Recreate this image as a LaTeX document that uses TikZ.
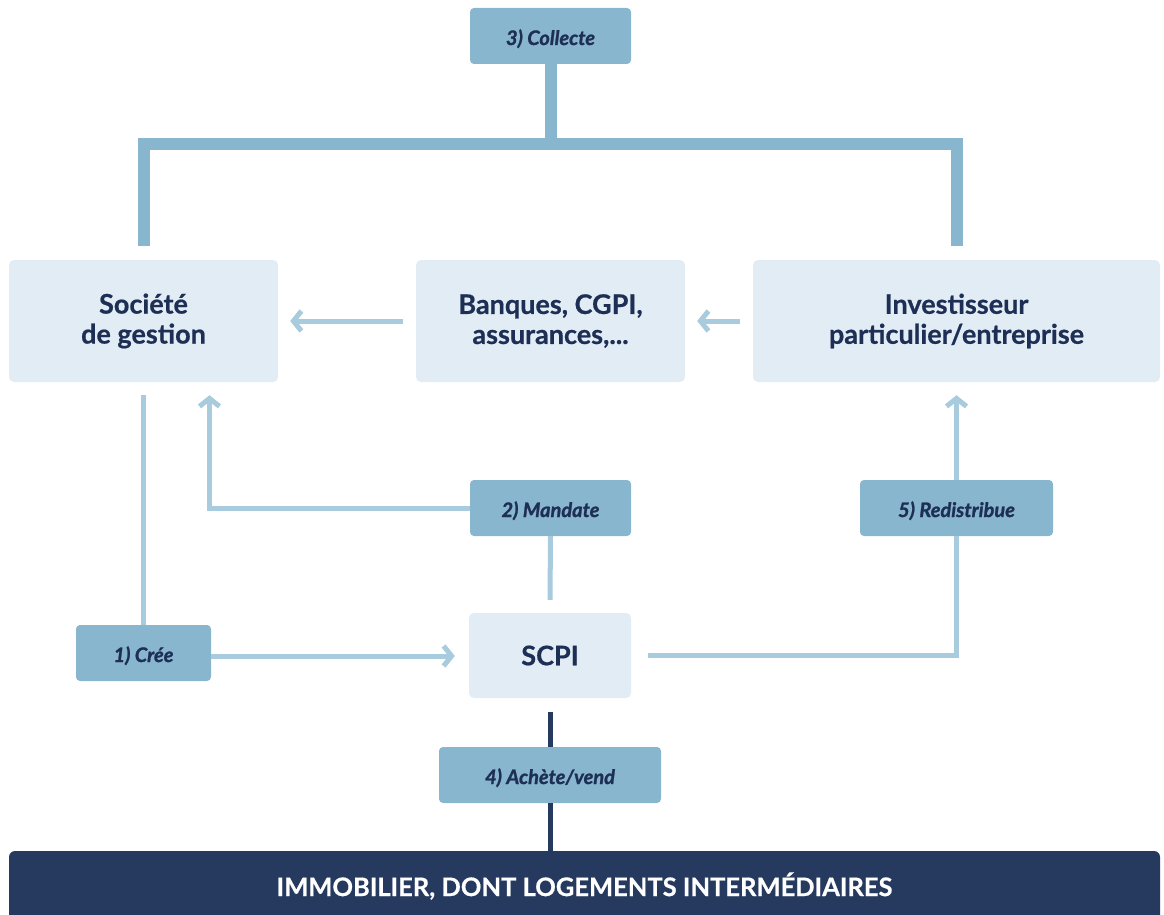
\documentclass[tikz,border=0pt]{standalone}
\usepackage{fontspec}
\setmainfont{Lato}[BoldFont={Lato Bold}, BoldItalicFont={Lato Bold Italic}]
\newfontfamily\labelfont{Lato Bold Italic}[FakeBold=1.2]
\newfontfamily\headfont{Lato Bold}[FakeBold=0.6]
\usetikzlibrary{arrows.meta}
\definecolor{boxlight}{HTML}{E2ECF4}
\definecolor{boxmid}{HTML}{88B6CE}
\definecolor{linelight}{HTML}{A8CBDE}
\definecolor{navy}{HTML}{253A5E}
\definecolor{ink}{HTML}{1E2F55}
\tikzset{
  entity/.style={fill=boxlight, rounded corners=5pt, text=ink, align=center,
    font=\fontsize{27}{30}\selectfont\headfont, inner sep=0pt},
  action/.style={fill=boxmid, rounded corners=4pt, text=ink, align=center,
    minimum height=56pt, inner sep=0pt, text height=18pt, text depth=0pt,
    font=\fontsize{20}{22}\selectfont\labelfont},
  bar/.style={draw=boxmid, line width=12pt},
  flow/.style={draw=linelight, line width=5pt},
  flowarrow/.style={flow, -{Straight Barb[length=8pt,width=20pt]}},
  trade/.style={draw=navy, line width=5pt},
}
\begin{document}
\begin{tikzpicture}[x=1pt, y=-1pt]
\useasboundingbox (0,0) rectangle (1164,915);

% entities
\node[entity, minimum width=269pt, minimum height=122pt] (soc) at (143.5,321) {Société\\de gestion};
\node[entity, minimum width=269pt, minimum height=122pt] (banq) at (550.5,321) {Banques, CGPI,\\assurances,...};
\node[entity, minimum width=407pt, minimum height=122pt] (inv) at (956.5,321) {Investisseur\\particulier/entreprise};
\node[entity, minimum width=162pt, minimum height=85pt] (scpi) at (550,655.5) {SCPI};

% actions
\node[action, minimum width=161pt] (collecte) at (550.5,36) {3) Collecte};
\node[action, minimum width=161pt] (mandate) at (550.5,508) {2) Mandate};
\node[action, minimum width=193pt] (redis) at (956.5,508) {5) Redistribue};
\node[action, minimum width=135pt] (cree) at (143.5,653) {1) Crée};
\node[action, minimum width=222pt] (achete) at (550,775) {4) Achète/vend};

% bottom band
\node[fill=navy, rounded corners=6pt, minimum width=1151pt, minimum height=70pt,
  text=white, font=\fontsize{25.5}{28}\selectfont\headfont, inner sep=0pt]
  (immo) at (584.5,886) {IMMOBILIER, DONT LOGEMENTS INTERMÉDIAIRES};

% collection bracket
\coordinate (barY) at (0,144);
\draw[bar] (collecte.south) -- (collecte.south |- barY);
\draw[bar, line join=miter] ([yshift=14pt]soc.north) |- (collecte.south |- barY)
  -| ([yshift=14pt]inv.north);

% distribution flow
\draw[flowarrow] ([xshift=-13pt]banq.west) -- ([xshift=12pt]soc.east);
\draw[flowarrow] ([xshift=-13pt]inv.west) -- ([xshift=12pt]banq.east);

% creation
\draw[flow] ([yshift=-13pt]soc.south) -- (cree.north);
\draw[flowarrow] ([yshift=-3pt]cree.east) -- ([xshift=-14pt,yshift=-3pt]scpi.west |- cree.east);

% mandate
\draw[flowarrow] (mandate.west) -| ([xshift=66pt,yshift=-13pt]soc.south);
\draw[flow] (mandate.south) -- ([yshift=13pt]scpi.north);

% redistribution
\draw[flow] ([xshift=17pt]scpi.east) -| (redis.south);
\draw[flowarrow] (redis.north) -- ([yshift=-13pt]inv.south);

% buying / selling
\draw[trade] ([yshift=-14pt]scpi.south) -- (achete.north);
\draw[trade] (achete.south) -- (achete.south |- immo.north);
\end{tikzpicture}
\end{document}
